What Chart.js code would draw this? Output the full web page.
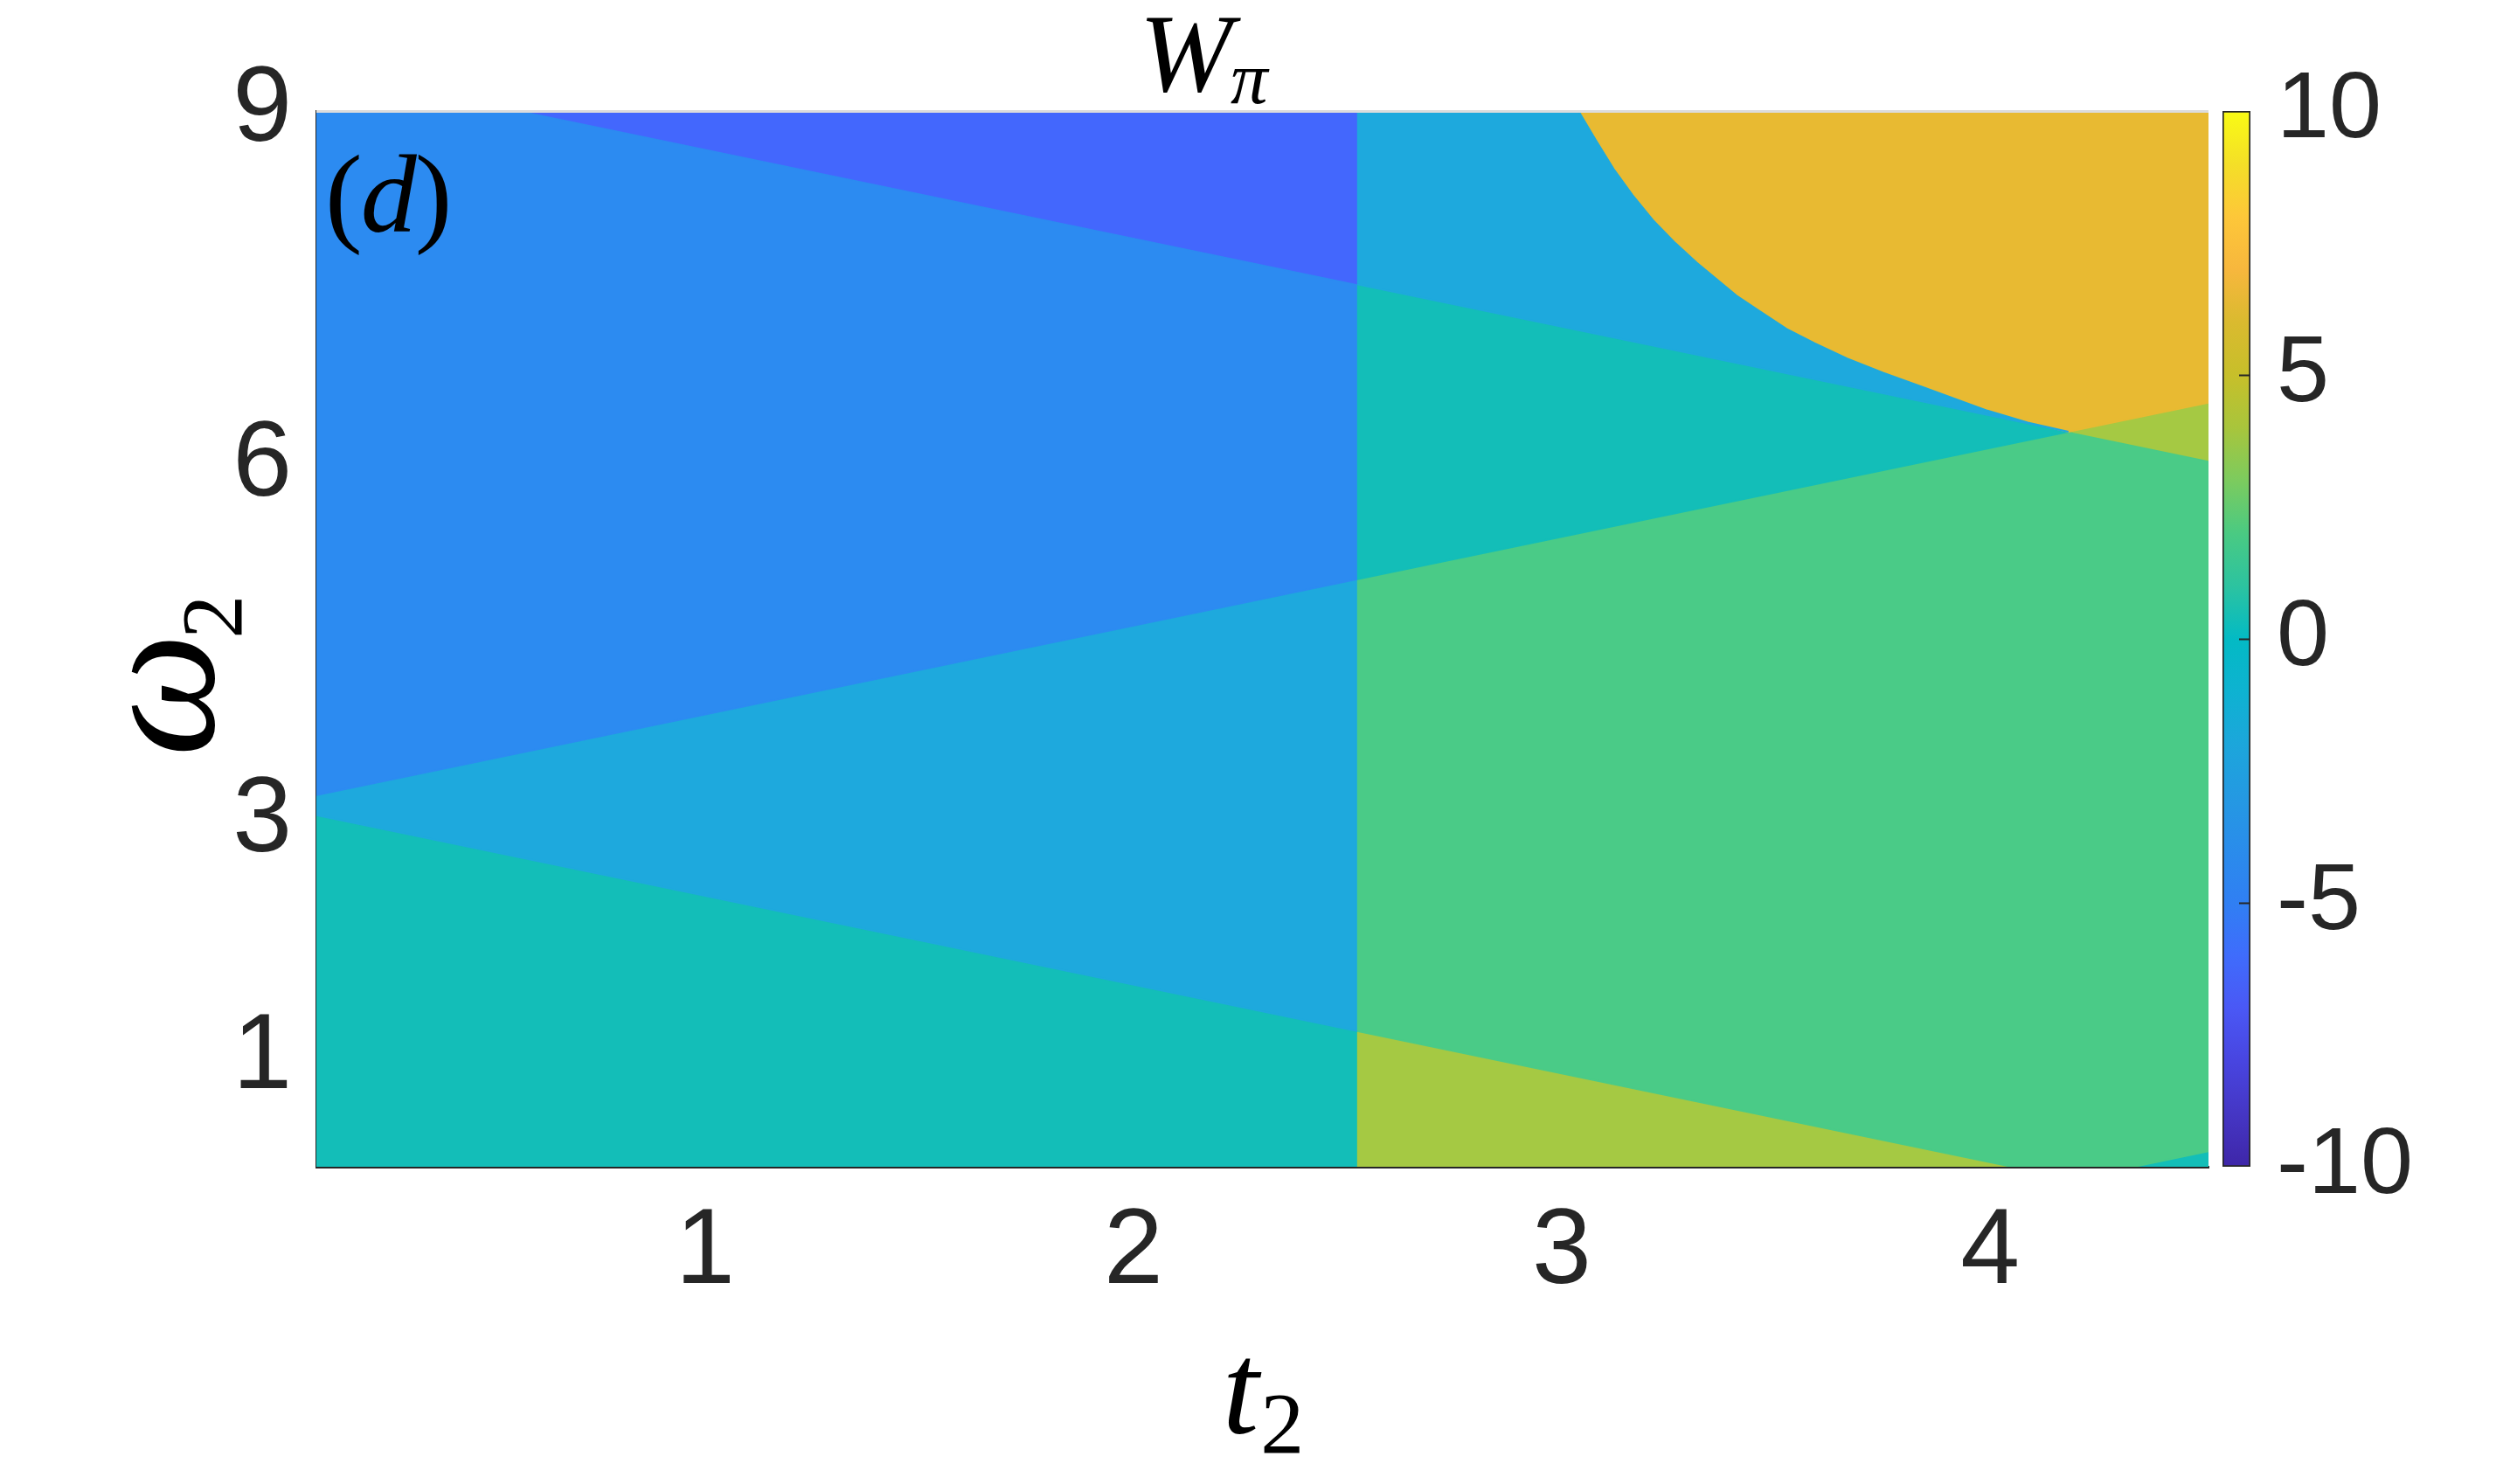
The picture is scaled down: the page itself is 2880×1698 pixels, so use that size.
<!DOCTYPE html>
<html>
<head>
<meta charset="utf-8">
<script src="https://cdn.jsdelivr.net/npm/chart.js@4.4.1/dist/chart.umd.min.js"></script>
<style>
html, body { margin: 0; padding: 0; background: #fff; }
#wrap { position: relative; width: 2880px; height: 1698px; }
canvas { position: absolute; left: 0; top: 0; }
</style>
</head>
<body>
<div id="wrap">
<canvas id="phase" width="2880" height="1698"></canvas>
<canvas id="cbar" width="2880" height="1698"></canvas>
</div>
<script>
// axis limits and tick labels
var t2Min = 0.092, t2Max = 4.51;
var w2Min = 0.085, w2Max = 9.0;
var t2Ticks = [1, 2, 3, 4];
var w2Ticks = [1, 3, 6, 9];
var cbTicks = [-10, -5, 0, 5, 10];

// winding number levels and their colours
var levelValues = [-6, -4, -2, 0, 2, 4, 6];
var levelColors = ['#4367FD', '#2C8BF1', '#1EA9DD', '#13BEB8', '#4ACB87', '#A5C943', '#E8BA32'];

// region outlines, [t2, w2] corners
var leftTop = [[0.572, 9.0], [2.52, 9.0], [2.52, 7.539]];
var leftUpper = [[0.092, 9.0], [0.572, 9.0], [2.52, 7.539], [2.52, 5.045], [0.092, 3.224]];
var leftMid = [[0.092, 3.224], [2.52, 5.045], [2.52, 1.233], [0.092, 3.054]];
var leftLow = [[0.092, 3.054], [2.52, 1.233], [2.52, 0.085], [0.092, 0.085]];
var goldEdge = [[3.039, 9.0], [3.08, 8.75], [3.121, 8.51], [3.165, 8.29], [3.215, 8.07], [3.265, 7.885],
                [3.315, 7.72], [3.408, 7.44], [3.46, 7.315], [3.525, 7.16], [3.59, 7.04], [3.666, 6.91],
                [3.75, 6.79], [3.842, 6.67], [3.994, 6.47], [4.088, 6.37], [4.183, 6.292]];
var rightWedge = [[2.52, 7.539], [4.183, 6.292], [2.52, 5.045]];
var rightTip = [[4.183, 6.292], [4.51, 6.538], [4.51, 6.046]];
var rightMain = [[2.52, 5.045], [4.183, 6.292], [4.51, 6.046], [4.51, 0.216], [4.336, 0.085], [4.051, 0.085], [2.52, 1.233]];
var rightLow = [[2.52, 1.233], [4.051, 0.085], [2.52, 0.085]];
var rightCorner = [[4.336, 0.085], [4.51, 0.216], [4.51, 0.085]];
var rightTop = [[2.52, 9.0]].concat(goldEdge, [[2.52, 7.539]]);
var rightGold = goldEdge.concat([[4.51, 6.538], [4.51, 9.0]]);

var regions = [
    { pts: leftTop, w: -6 }, { pts: leftUpper, w: -4 }, { pts: leftMid, w: -2 }, { pts: leftLow, w: 0 },
    { pts: rightTop, w: -2 }, { pts: rightGold, w: 6 }, { pts: rightWedge, w: 0 }, { pts: rightTip, w: 4 },
    { pts: rightMain, w: 2 }, { pts: rightLow, w: 4 }, { pts: rightCorner, w: 0 }
];

// parula-like colour map for the colour bar
var parulaStops = [
    [0.00, '#3E26A8'], [0.05, '#4536C4'], [0.10, '#4845E0'], [0.15, '#4A58F5'], [0.20, '#3F6CFC'],
    [0.25, '#307FF3'], [0.30, '#2A8CEB'], [0.35, '#2499E2'], [0.40, '#1CA6DB'], [0.45, '#0EB2D1'],
    [0.50, '#03BAC4'], [0.55, '#2CC3A0'], [0.60, '#4ACA82'], [0.65, '#7CCB5E'], [0.70, '#A8C53C'],
    [0.75, '#C7BF2A'], [0.80, '#DABA2F'], [0.85, '#F7B73D'], [0.90, '#FDC739'], [0.95, '#F4DF27'],
    [1.00, '#F9FB14']
];

function colorFor(w) {
    return levelColors[levelValues.indexOf(w)];
}

var datasets = regions.map(function (r) {
    var c = colorFor(r.w);
    return {
        data: r.pts.map(function (p) { return { x: p[0], y: p[1] }; }),
        showLine: true,
        fill: 'shape',
        backgroundColor: c,
        borderColor: c,
        borderWidth: 2,
        pointRadius: 0,
        tension: 0
    };
});

var tickFont = { family: 'Liberation Sans', size: 122 };

// titles drawn as text (subscripts need two fonts)
var textPlugin = {
    id: 'texts',
    afterDatasetsDraw: function (chart) {
        var ctx = chart.ctx, a = chart.chartArea;
        ctx.save();
        ctx.strokeStyle = '#dcdcdc';
        ctx.lineWidth = 3;
        ctx.beginPath();
        ctx.moveTo(a.left, a.top + 0.5);
        ctx.lineTo(a.right, a.top + 0.5);
        ctx.stroke();
        ctx.restore();
    },
    afterDraw: function (chart) {
        var ctx = chart.ctx, a = chart.chartArea;
        ctx.save();
        ctx.fillStyle = '#000';
        ctx.textBaseline = 'alphabetic';
        ctx.textAlign = 'left';

        // W_pi
        ctx.font = 'italic 128px "Liberation Serif"';
        var wW = ctx.measureText('W').width;
        ctx.font = 'italic 85px "Liberation Serif"';
        var wPi = ctx.measureText('\u03c0').width;
        var x0 = 1378 - (wW + wPi) / 2;
        ctx.font = 'italic 128px "Liberation Serif"';
        ctx.fillText('W', x0, 104);
        ctx.font = 'italic 85px "Liberation Serif"';
        ctx.fillText('\u03c0', x0 + wW - 2, 118);

        // (d)
        var px = 372;
        ctx.font = '128px "Liberation Serif"';
        ctx.fillText('(', px, 265);
        px += ctx.measureText('(').width - 2;
        ctx.font = 'italic 128px "Liberation Serif"';
        ctx.fillText('d', px, 265);
        px += ctx.measureText('d').width - 2;
        ctx.font = '128px "Liberation Serif"';
        ctx.fillText(')', px, 265);

        // t_2
        ctx.font = 'italic 150px "Liberation Serif"';
        var wt = ctx.measureText('t').width;
        ctx.font = '100px "Liberation Serif"';
        var w2 = ctx.measureText('2').width;
        var cx = (a.left + a.right) / 2 - (wt + w2) / 2;
        ctx.font = 'italic 150px "Liberation Serif"';
        ctx.fillText('t', cx, 1640);
        ctx.font = '100px "Liberation Serif"';
        ctx.fillText('2', cx + wt + 2, 1662);

        // omega_2, rotated
        ctx.translate(244, 0);
        ctx.rotate(-Math.PI / 2);
        ctx.font = 'italic 200px "Liberation Serif"';
        var wo = ctx.measureText('\u03c9').width;
        var start = -866;
        ctx.fillText('\u03c9', start, 0);
        ctx.font = '100px "Liberation Serif"';
        ctx.fillText('2', start + wo - 6, 32);
        ctx.restore();
    }
};

new Chart(document.getElementById('phase'), {
    type: 'scatter',
    data: { datasets: datasets },
    options: {
        responsive: false,
        animation: false,
        devicePixelRatio: 1,
        layout: { padding: { left: 0, top: 127, right: 353, bottom: 0 } },
        plugins: { legend: { display: false }, tooltip: { enabled: false } },
        scales: {
            x: {
                type: 'linear', min: t2Min, max: t2Max,
                afterBuildTicks: function (s) { s.ticks = t2Ticks.map(function (v) { return { value: v }; }); },
                afterFit: function (s) { s.height = 363; },
                grid: { display: false, drawTicks: false },
                border: { display: true, color: '#262626', width: 3 },
                ticks: { color: '#262626', font: tickFont, padding: 26, maxRotation: 0, autoSkip: false,
                         callback: function (v) { return String(v); } }
            },
            y: {
                type: 'linear', min: w2Min, max: w2Max,
                afterBuildTicks: function (s) { s.ticks = w2Ticks.map(function (v) { return { value: v }; }); },
                afterFit: function (s) { s.width = 362; },
                grid: { display: false, drawTicks: false },
                border: { display: true, color: '#262626', width: 3 },
                ticks: { color: '#262626', font: tickFont, padding: 28, autoSkip: false,
                         callback: function (v) { return String(v); } }
            }
        }
    },
    plugins: [textPlugin]
});

// colour bar
var cbTickPlugin = {
    id: 'cbticks',
    afterDatasetsDraw: function (chart) {
        var ctx = chart.ctx, a = chart.chartArea, s = chart.scales.y;
        ctx.save();
        ctx.strokeStyle = '#262626';
        ctx.lineWidth = 2;
        cbTicks.slice(1, -1).forEach(function (v) {
            var y = Math.round(s.getPixelForValue(v)) + 0.5;
            ctx.beginPath();
            ctx.moveTo(a.right - 13, y);
            ctx.lineTo(a.right, y);
            ctx.stroke();
        });
        ctx.restore();
    }
};

new Chart(document.getElementById('cbar'), {
    type: 'bar',
    data: {
        labels: ['W'],
        datasets: [{
            data: [[cbTicks[0], cbTicks[cbTicks.length - 1]]],
            backgroundColor: function (c) {
                var a = c.chart.chartArea;
                if (!a) return '#888';
                var g = c.chart.ctx.createLinearGradient(0, a.bottom, 0, a.top);
                parulaStops.forEach(function (s) { g.addColorStop(s[0], s[1]); });
                return g;
            },
            borderColor: '#262626',
            borderWidth: 2,
            borderSkipped: false,
            barPercentage: 1,
            categoryPercentage: 1
        }]
    },
    options: {
        responsive: false,
        animation: false,
        devicePixelRatio: 1,
        layout: { padding: { left: 2543, top: 127, right: 0, bottom: 363 } },
        plugins: { legend: { display: false }, tooltip: { enabled: false } },
        scales: {
            x: { display: false },
            y: {
                position: 'right', min: cbTicks[0], max: cbTicks[cbTicks.length - 1],
                afterBuildTicks: function (s) { s.ticks = cbTicks.map(function (v) { return { value: v }; }); },
                afterFit: function (s) { s.width = 305; },
                grid: { display: false, drawTicks: false },
                border: { display: false },
                ticks: { color: '#262626', font: { family: 'Liberation Sans', size: 108 }, padding: 30, autoSkip: false,
                         callback: function (v) { return String(v); } }
            }
        }
    },
    plugins: [cbTickPlugin]
});
</script>
</body>
</html>
